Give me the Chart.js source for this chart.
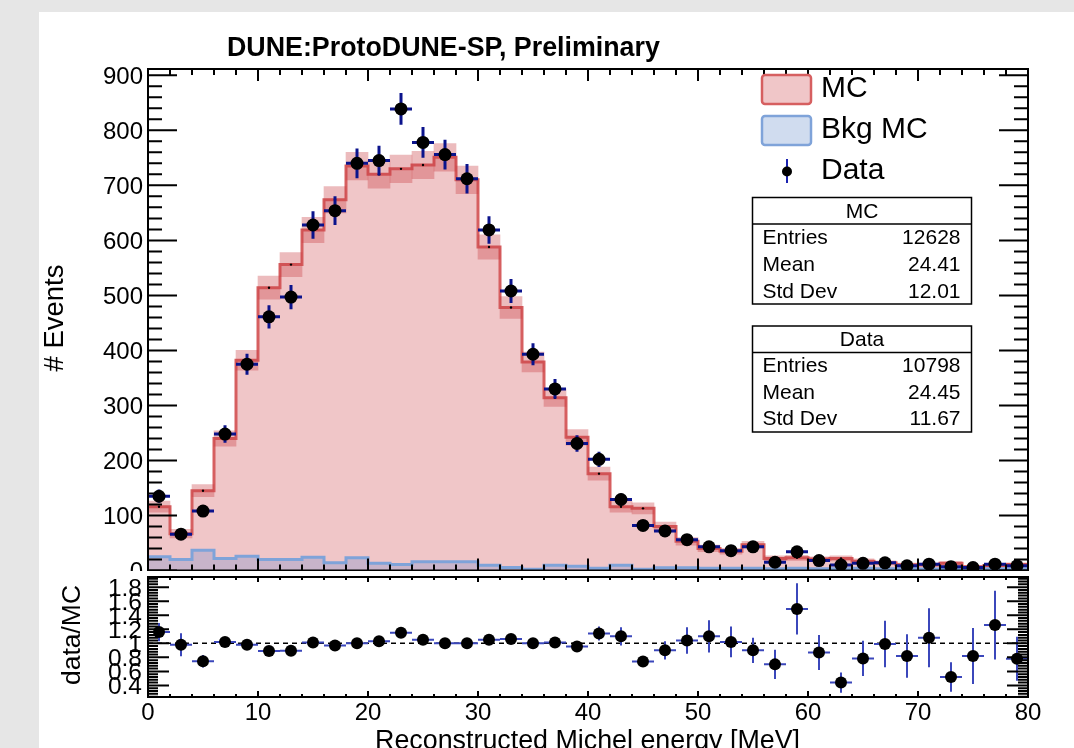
<!DOCTYPE html>
<html>
<head>
<meta charset="utf-8">
<script src="https://cdn.jsdelivr.net/npm/chart.js@4.4.1/dist/chart.umd.min.js"></script>
<style>
  html, body { margin: 0; padding: 0; }
  body { width: 1074px; height: 748px; background: #e6e6e6; position: relative; overflow: hidden; }
  #pad { position: absolute; left: 39px; top: 12px; width: 1035px; height: 736px; background: #fff; }
  canvas { position: absolute; left: 0; }
  #top { top: 0; }
  #ratio { top: 571px; }
</style>
</head>
<body>
<div id="pad"></div>
<canvas id="top" width="1074" height="600"></canvas>
<canvas id="ratio" width="1074" height="177"></canvas>
<script>
const FONT = "'Liberation Sans', Arial, Helvetica, sans-serif";

// 2 MeV bins, 0 - 80 MeV
const binCenters = [1, 3, 5, 7, 9, 11, 13, 15, 17, 19, 21, 23, 25, 27, 29, 31, 33, 35, 37, 39,
  41, 43, 45, 47, 49, 51, 53, 55, 57, 59, 61, 63, 65, 67, 69, 71, 73, 75, 77, 79];
const binHalfWidth = 1;

// MC (normalised), its error band, and the background part of it
const mcCounts = [116, 67, 145, 240, 382, 514, 556, 619, 674, 735, 720, 730, 737, 751, 710, 588, 478, 379, 314, 242,
  176, 116, 113, 80, 53, 40, 35, 47, 22, 23, 21, 22, 17, 14, 10.5, 10.6, 13, 6.6, 9, 10.8];
const mcErr = [10, 8, 11, 14, 18, 21, 22, 23, 24, 25, 25, 25, 25, 25, 25, 22, 20, 18, 16, 14,
  12, 10, 10, 8, 7, 6, 5.5, 6, 4.5, 4.5, 4, 4.5, 4, 3.5, 3, 3, 3.3, 2.4, 2.8, 3];
const bkgCounts = [25, 20, 37, 22, 26, 20, 20, 24, 14, 23, 13, 11, 16, 16, 16, 9.6, 5.4, 2.3, 9.6, 7.8,
  4, 9.6, 2.4, 5, 5, 4, 4, 4, 3, 4, 3, 3, 4, 3, 3, 2.5, 3, 2.5, 3, 3];

// data
const dataCounts = [135, 66, 108, 248, 375, 461, 497, 628, 654, 740, 745, 839, 778, 756, 712, 619, 508, 393, 330, 231,
  202, 129, 82, 72, 56, 43, 36, 43, 15, 34, 18, 10, 13, 14, 8.5, 11.5, 7, 5.5, 11.5, 8.5];
const dataErr = [12, 8, 10, 16, 19, 21, 22, 25, 26, 27, 27, 29, 28, 27, 27, 25, 22, 20, 18, 15,
  14, 11, 9, 8.5, 7.5, 6.5, 6, 6.5, 4, 6, 4, 3, 3.6, 3.7, 3, 3.4, 2.6, 2.3, 3.4, 3];

// data / MC
const ratioValues = [1.16, 0.98, 0.745, 1.02, 0.98, 0.89, 0.895, 1.01, 0.97, 1.0, 1.03, 1.15, 1.05, 1.0, 1.0, 1.05, 1.06, 1.0, 1.01, 0.955,
  1.14, 1.1, 0.74, 0.9, 1.04, 1.1, 1.02, 0.9, 0.7, 1.49, 0.87, 0.44, 0.785, 0.99, 0.82, 1.08, 0.52, 0.82, 1.26, 0.78];
const ratioErr = [0.13, 0.165, 0.09, 0.07, 0.055, 0.05, 0.05, 0.045, 0.045, 0.04, 0.04, 0.045, 0.045, 0.04, 0.045, 0.05, 0.055, 0.06, 0.07, 0.075,
  0.1, 0.13, 0.075, 0.13, 0.19, 0.23, 0.22, 0.18, 0.21, 0.365, 0.25, 0.145, 0.25, 0.33, 0.31, 0.42, 0.21, 0.4, 0.49, 0.315];

const xTickLabels = ['0', '10', '20', '30', '40', '50', '60', '70', '80'];
const yTickLabels = ['0', '100', '200', '300', '400', '500', '600', '700', '800', '900'];
const ratioTickLabels = ['0.4', '0.6', '0.8', '1', '1.2', '1.4', '1.6', '1.8'];

const mcStats = [['Entries', '12628'], ['Mean', '24.41'], ['Std Dev', '12.01']];
const dataStats = [['Entries', '10798'], ['Mean', '24.45'], ['Std Dev', '11.67']];

const MC_FILL = '#f0c6c8';
const MC_LINE = '#d65f60';
const BKG_FILL = 'rgba(110,140,210,0.30)';
const BKG_LINE = '#7fa3d9';

// histogram step outline: one point per lower bin edge plus the last upper edge
const stepPoints = (vals) => {
  const pts = binCenters.map((c, i) => ({ x: c - binHalfWidth, y: vals[i] }));
  pts.push({ x: binCenters[binCenters.length - 1] + binHalfWidth, y: vals[vals.length - 1] });
  return pts;
};

const fitFont = (ctx, text, weight, width) => {
  ctx.font = weight + ' 24px ' + FONT;
  const size = 24 * width / ctx.measureText(text).width;
  return weight + ' ' + size.toFixed(2) + 'px ' + FONT;
};

const tickX = (ctx, a, px, lenBottom, lenTop) => {
  ctx.beginPath();
  ctx.moveTo(px, a.bottom); ctx.lineTo(px, a.bottom - lenBottom);
  ctx.moveTo(px, a.top); ctx.lineTo(px, a.top + lenTop);
  ctx.stroke();
};
const tickY = (ctx, a, py, len) => {
  ctx.beginPath();
  ctx.moveTo(a.left, py); ctx.lineTo(a.left + len, py);
  ctx.moveTo(a.right, py); ctx.lineTo(a.right - len, py);
  ctx.stroke();
};

// vertical + bin-width error bars under the markers
const errorBars = {
  id: 'errorBars',
  beforeDatasetDraw(chart, args) {
    const ds = chart.data.datasets[args.index];
    if (!ds.errY) return;
    const { ctx, chartArea: a, scales: { x, y } } = chart;
    ctx.save();
    ctx.beginPath();
    ctx.rect(a.left, a.top, a.right - a.left, a.bottom - a.top);
    ctx.clip();
    ctx.strokeStyle = ds.errColor;
    ctx.lineWidth = ds.errWidth;
    ds.data.forEach((p, i) => {
      const px = x.getPixelForValue(p.x);
      const py = y.getPixelForValue(p.y);
      ctx.beginPath();
      ctx.moveTo(px, y.getPixelForValue(p.y - ds.errY[i]));
      ctx.lineTo(px, y.getPixelForValue(p.y + ds.errY[i]));
      ctx.moveTo(x.getPixelForValue(p.x - binHalfWidth), py);
      ctx.lineTo(x.getPixelForValue(p.x + binHalfWidth), py);
      ctx.stroke();
    });
    ctx.restore();
  }
};

const statsBox = (ctx, left, top, right, bottom, sep, header, headerY, rows, rowYs) => {
  ctx.fillStyle = '#fff';
  ctx.fillRect(left, top, right - left, bottom - top);
  ctx.strokeStyle = '#000';
  ctx.lineWidth = 1.5;
  ctx.strokeRect(left, top, right - left, bottom - top);
  ctx.beginPath(); ctx.moveTo(left, sep); ctx.lineTo(right, sep); ctx.stroke();
  ctx.fillStyle = '#000';
  ctx.font = '21px ' + FONT;
  ctx.textBaseline = 'middle';
  ctx.textAlign = 'center';
  ctx.fillText(header, (left + right) / 2, headerY);
  rows.forEach((r, i) => {
    ctx.textAlign = 'left';
    ctx.fillText(r[0], left + 10, rowYs[i]);
    ctx.textAlign = 'right';
    ctx.fillText(r[1], right - 11, rowYs[i]);
  });
};

const topDecor = {
  id: 'topDecor',
  afterDraw(chart) {
    const { ctx, chartArea: a, scales: { x, y } } = chart;
    ctx.save();
    ctx.strokeStyle = '#000';
    ctx.lineWidth = 2;
    for (let k = 0; k <= 40; k++) {
      const big = k % 5 === 0;
      tickX(ctx, a, x.getPixelForValue(k * 2), big ? 12 : 6, big ? 12 : 6);
    }
    for (let k = 0; k <= 45; k++) {
      tickY(ctx, a, y.getPixelForValue(k * 20), k % 5 === 0 ? 29 : 14);
    }
    ctx.strokeRect(a.left, a.top, a.right - a.left, a.bottom - a.top);

    ctx.fillStyle = '#000';
    ctx.font = '24px ' + FONT;
    ctx.textAlign = 'right';
    ctx.textBaseline = 'alphabetic';
    yTickLabels.forEach(l => ctx.fillText(l, a.left - 5, y.getPixelForValue(Number(l)) + 8.6));

    // title
    const title = 'DUNE:ProtoDUNE-SP, Preliminary';
    ctx.font = fitFont(ctx, title, 'bold', 433);
    ctx.textAlign = 'left';
    ctx.fillText(title, 227, 56);

    // y title
    ctx.save();
    ctx.translate(63, 318);
    ctx.rotate(-Math.PI / 2);
    ctx.font = fitFont(ctx, '# Events', 'normal', 107);
    ctx.textAlign = 'center';
    ctx.fillText('# Events', 0, 0);
    ctx.restore();

    // legend
    ctx.lineWidth = 2.5;
    ctx.fillStyle = MC_FILL; ctx.strokeStyle = MC_LINE;
    ctx.beginPath(); ctx.roundRect(762, 75, 49, 29, 3); ctx.fill(); ctx.stroke();
    ctx.fillStyle = '#d0dcef'; ctx.strokeStyle = BKG_LINE;
    ctx.beginPath(); ctx.roundRect(762, 116, 49, 29, 3); ctx.fill(); ctx.stroke();
    ctx.strokeStyle = '#1a22b0'; ctx.lineWidth = 2;
    ctx.beginPath(); ctx.moveTo(787, 159); ctx.lineTo(787, 183); ctx.stroke();
    ctx.fillStyle = '#000';
    ctx.beginPath(); ctx.arc(787, 171.5, 5, 0, Math.PI * 2); ctx.fill();
    ctx.font = '30px ' + FONT;
    ctx.textAlign = 'left';
    ctx.textBaseline = 'middle';
    ctx.fillText('MC', 821, 89);
    ctx.fillText('Bkg MC', 821, 130);
    ctx.fillText('Data', 821, 171);

    statsBox(ctx, 752.5, 197.5, 971.5, 304, 224, 'MC', 212, mcStats, [238, 265, 292]);
    statsBox(ctx, 752.5, 326, 971.5, 432, 352.5, 'Data', 340, dataStats, [366.5, 393, 419.5]);
    ctx.restore();
  }
};

const ratioDecor = {
  id: 'ratioDecor',
  beforeDraw(chart) {
    const { ctx } = chart;
    ctx.save();
    ctx.fillStyle = '#fff';
    ctx.fillRect(39, 0, chart.width - 39, chart.height);
    ctx.restore();
  },
  afterDraw(chart) {
    const { ctx, chartArea: a, scales: { x, y } } = chart;
    ctx.save();
    ctx.strokeStyle = '#000';
    ctx.lineWidth = 2;
    for (let k = 0; k <= 40; k++) {
      const big = k % 5 === 0;
      tickX(ctx, a, x.getPixelForValue(k * 2), big ? 6 : 3, big ? 5 : 3);
    }
    for (let k = 6; k <= 48; k++) {
      tickY(ctx, a, y.getPixelForValue(k * 0.04), k % 5 === 0 ? 21 : 10);
    }
    ctx.strokeRect(a.left, a.top, a.right - a.left, a.bottom - a.top);

    ctx.fillStyle = '#000';
    ctx.textBaseline = 'alphabetic';
    ctx.font = '24.5px ' + FONT;
    ctx.textAlign = 'right';
    ratioTickLabels.forEach(l => ctx.fillText(l, a.left - 6, y.getPixelForValue(Number(l)) + 8.8));
    ctx.font = '24px ' + FONT;
    ctx.textAlign = 'center';
    xTickLabels.forEach(l => ctx.fillText(l, x.getPixelForValue(Number(l)), 149));

    const xt = 'Reconstructed Michel energy [MeV]';
    ctx.font = fitFont(ctx, xt, 'normal', 425);
    ctx.textAlign = 'right';
    ctx.fillText(xt, 800, 178);

    ctx.save();
    ctx.translate(80, 64);
    ctx.rotate(-Math.PI / 2);
    ctx.font = fitFont(ctx, 'data/MC', 'normal', 100);
    ctx.textAlign = 'center';
    ctx.fillText('data/MC', 0, 0);
    ctx.restore();
    ctx.restore();
  }
};

const hiddenLinear = (min, max) => ({ type: 'linear', min, max, offset: false, display: false, grid: { display: false } });

new Chart(document.getElementById('top').getContext('2d'), {
  type: 'line',
  data: {
    datasets: [
      {
        type: 'line', data: stepPoints(mcCounts), stepped: 'before', fill: 'origin',
        backgroundColor: MC_FILL, borderColor: MC_LINE, borderWidth: 3, pointRadius: 0, order: 6
      },
      {
        type: 'bar', data: binCenters.map((c, i) => ({ x: c, y: [mcCounts[i] - mcErr[i], mcCounts[i] + mcErr[i]] })),
        backgroundColor: 'rgba(200,60,65,0.35)', borderWidth: 0, barPercentage: 1, categoryPercentage: 1, order: 5
      },
      {
        type: 'line', data: stepPoints(bkgCounts), stepped: 'before', fill: 'origin',
        backgroundColor: BKG_FILL, borderColor: BKG_LINE, borderWidth: 3, pointRadius: 0, order: 4
      },
      {
        type: 'scatter', data: binCenters.map((c, i) => ({ x: c, y: mcCounts[i] })),
        pointRadius: 1.2, pointBackgroundColor: '#000', pointBorderWidth: 0, order: 3
      },
      {
        type: 'scatter', data: binCenters.map((c, i) => ({ x: c, y: dataCounts[i] })),
        errY: dataErr, errColor: '#0b138c', errWidth: 3, clip: 0,
        pointRadius: 6.5, pointBackgroundColor: '#000', pointBorderWidth: 0, order: 1
      }
    ]
  },
  options: {
    responsive: false,
    animation: false,
    events: [],
    layout: { padding: { left: 148, right: 46, top: 69, bottom: 29.5 } },
    scales: { x: hiddenLinear(0, 80), y: hiddenLinear(0, 911.5) },
    plugins: { legend: { display: false }, tooltip: { enabled: false } }
  },
  plugins: [errorBars, topDecor]
});

new Chart(document.getElementById('ratio').getContext('2d'), {
  type: 'line',
  data: {
    datasets: [
      {
        type: 'line', data: [{ x: 0, y: 1 }, { x: 80, y: 1 }], borderColor: '#000', borderWidth: 1.5,
        borderDash: [5, 4], pointRadius: 0, order: 2
      },
      {
        type: 'scatter', data: binCenters.map((c, i) => ({ x: c, y: ratioValues[i] })),
        errY: ratioErr, errColor: '#3b47bb', errWidth: 2, clip: 0,
        pointRadius: 6, pointBackgroundColor: '#000', pointBorderWidth: 0, order: 1
      }
    ]
  },
  options: {
    responsive: false,
    animation: false,
    events: [],
    layout: { padding: { left: 148, right: 46, top: 1, bottom: 51 } },
    scales: { x: hiddenLinear(0, 80), y: hiddenLinear(0.235, 1.945) },
    plugins: { legend: { display: false }, tooltip: { enabled: false } }
  },
  plugins: [errorBars, ratioDecor]
});
</script>
</body>
</html>
